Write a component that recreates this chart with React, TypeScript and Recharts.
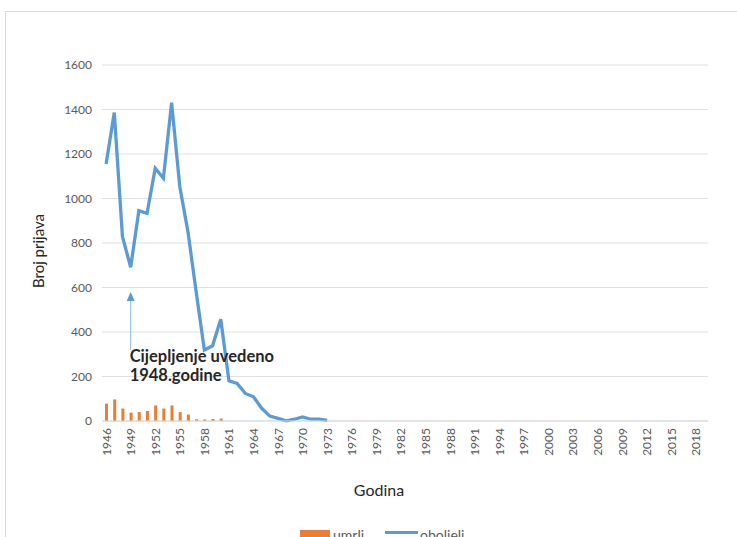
import React from "react";
import {
  ComposedChart,
  Bar,
  Line,
  XAxis,
  YAxis,
  CartesianGrid,
  ReferenceLine,
} from "recharts";

const years: string[] = [
  "1946", "1947", "1948", "1949", "1950", "1951", "1952", "1953", "1954", "1955",
  "1956", "1957", "1958", "1959", "1960", "1961", "1962", "1963", "1964", "1965",
  "1966", "1967", "1968", "1969", "1970", "1971", "1972", "1973", "1974", "1975",
  "1976", "1977", "1978", "1979", "1980", "1981", "1982", "1983", "1984", "1985",
  "1986", "1987", "1988", "1989", "1990", "1991", "1992", "1993", "1994", "1995",
  "1996", "1997", "1998", "1999", "2000", "2001", "2002", "2003", "2004", "2005",
  "2006", "2007", "2008", "2009", "2010", "2011", "2012", "2013", "2014", "2015",
  "2016", "2017", "2018", "2019",
];

// oboljeli (cases) 1946–1973
const oboljeli: number[] = [
  1155, 1386, 828, 691, 945, 933, 1136, 1091, 1431, 1053,
  850, 580, 319, 338, 457, 181, 169, 124, 109, 57,
  22, 12, 1, 8, 18, 8, 8, 3,
];

// umrli (deaths) 1946–1960
const umrli: number[] = [78, 97, 56, 38, 40, 45, 70, 56, 70, 40, 29, 8, 7, 9, 11];

const yTicks: number[] = [0, 200, 400, 600, 800, 1000, 1200, 1400, 1600];

const annotationYear = "1949";
const annotationLines: string[] = ["Cijepljenje uvedeno", "1948.godine"];

const data = years.map((y, i) => ({
  year: y,
  umrli: i < umrli.length ? umrli[i] : null,
  oboljeli: i < oboljeli.length ? oboljeli[i] : null,
}));

const FONT = "Lato, 'Open Sans', sans-serif";

const XTick = (props: any) => {
  const { x, y, payload } = props;
  const ty = y + 7;
  return (
    <text
      x={x}
      y={ty}
      transform={`rotate(-90, ${x}, ${ty})`}
      textAnchor="end"
      dominantBaseline="central"
      fill="#595959"
      fontSize={12}
      fontFamily={FONT}
    >
      {payload.value}
    </text>
  );
};

const ArrowShape = (p: any) => {
  const { x1, y1, x2, y2 } = p;
  return (
    <g>
      <line x1={x1} y1={y1} x2={x2} y2={y2 + 8} stroke="#9DC3E6" strokeWidth={1.2} />
      <polygon
        points={`${x2},${y2} ${x2 - 4},${y2 + 9} ${x2 + 4},${y2 + 9}`}
        fill="#5B9BD5"
      />
      <text
        x={x1 - 1}
        y={y1 + 12}
        fontFamily={FONT}
        fontWeight="bold"
        fontSize={16.5}
        fill="#262626"
      >
        <tspan x={x1 - 1} dy={0}>{annotationLines[0]}</tspan>
        <tspan x={x1 - 1} dy={19}>{annotationLines[1]}</tspan>
      </text>
    </g>
  );
};

export default function App() {
  return (
    <div
      style={{
        position: "absolute",
        left: 0,
        top: 0,
        width: 737,
        height: 537,
        overflow: "hidden",
        background: "#fff",
      }}
    >
      <div
        style={{
          position: "absolute",
          left: 5,
          top: 11,
          width: 780,
          height: 600,
          border: "1.5px solid #d9d9d9",
        }}
      />
      <div style={{ position: "absolute", left: 0, top: 0 }}>
        <ComposedChart
          width={737}
          height={537}
          data={data}
          margin={{ top: 65, right: 29, bottom: 0, left: 0 }}
        >
          <CartesianGrid vertical={false} stroke="#e0e0e0" strokeWidth={1} />
          <YAxis
            width={102}
            domain={[0, 1600]}
            ticks={yTicks}
            axisLine={false}
            tickLine={false}
            tickSize={0}
            tickMargin={10}
            tick={{ fill: "#595959", fontSize: 12, fontFamily: FONT }}
            label={{
              content: (lp: any) => {
                const vb = lp.viewBox || {};
                const cx = 38;
                const cy = (vb.y || 65) + (vb.height || 356) / 2 + 8;
                return (
                  <text
                    x={cx}
                    y={cy}
                    transform={`rotate(-90, ${cx}, ${cy})`}
                    textAnchor="middle"
                    dominantBaseline="central"
                    fontSize={15}
                    fontFamily={FONT}
                    fill="#262626"
                  >
                    Broj prijava
                  </text>
                );
              },
            }}
          />
          <XAxis
            dataKey="year"
            height={116}
            interval={2}
            axisLine={{ stroke: "#d9d9d9" }}
            tickLine={false}
            tickSize={0}
            tickMargin={0}
            tick={<XTick />}
            label={{
              content: (lp: any) => {
                const vb = lp.viewBox || {};
                const cx = (vb.x || 102) + 277;
                return (
                  <text
                    x={cx}
                    y={489}
                    textAnchor="middle"
                    dominantBaseline="central"
                    fontSize={16}
                    fontFamily={FONT}
                    fill="#262626"
                  >
                    Godina
                  </text>
                );
              },
            }}
          />
          <Bar dataKey="umrli" fill="#ED7D31" barSize={3} isAnimationActive={false} />
          <Line
            dataKey="oboljeli"
            type="linear"
            stroke="#5B9BD5"
            strokeWidth={3.3}
            dot={false}
            isAnimationActive={false}
            connectNulls={false}
          />
          <ReferenceLine
            segment={[
              { x: annotationYear, y: 320 },
              { x: annotationYear, y: 580 },
            ]}
            shape={ArrowShape}
          />
        </ComposedChart>
      </div>
      <div
        style={{
          position: "absolute",
          left: 300,
          top: 529,
          height: 16,
          width: 200,
          fontFamily: FONT,
          fontSize: 14,
          color: "#595959",
          whiteSpace: "nowrap",
        }}
      >
        <span
          style={{
            position: "absolute",
            left: 0,
            top: 1,
            width: 30,
            height: 12,
            background: "#ED7D31",
          }}
        />
        <span style={{ position: "absolute", left: 33, top: -2, lineHeight: "16px" }}>umrli</span>
        <span
          style={{
            position: "absolute",
            left: 85,
            top: 2,
            width: 33,
            height: 3,
            background: "#5B9BD5",
          }}
        />
        <span style={{ position: "absolute", left: 120, top: -2, lineHeight: "16px" }}>oboljeli</span>
      </div>
    </div>
  );
}
